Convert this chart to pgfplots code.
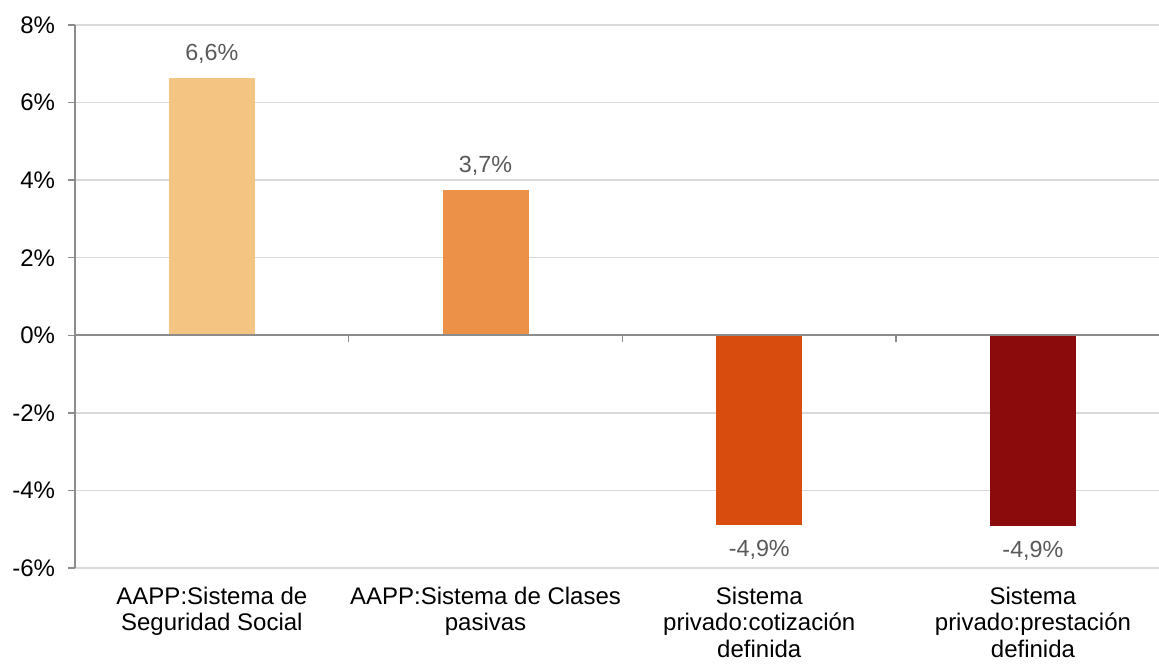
\documentclass[border=0pt]{standalone}
\usepackage{pgfplots}
\pgfplotsset{compat=1.18}
\usepackage{fontspec}
\setmainfont{Liberation Sans}
\definecolor{c1}{RGB}{244,196,130}
\definecolor{c2}{RGB}{236,146,72}
\definecolor{c3}{RGB}{216,77,14}
\definecolor{c4}{RGB}{139,10,12}
\definecolor{axisgrey}{RGB}{140,140,140}
\definecolor{gridgrey}{RGB}{217,217,217}
\definecolor{labelgrey}{RGB}{89,89,89}
\begin{document}
\begin{tikzpicture}
\begin{axis}[
  scale only axis, width=813pt, height=407.25pt,
  xmin=-0.5, xmax=3.4605, ymin=-6, ymax=8,
  ytick={-6,-4,...,8},
  yticklabel={\pgfmathprintnumber{\tick}\%},
  /pgf/number format/assume math mode=true,
  axis y line*=left, axis x line*=bottom,
  x axis line style={draw=none},
  y axis line style={draw=axisgrey, line width=1.1pt},
  ymajorgrids, grid style={draw=gridgrey, line width=1.1pt},
  tick align=outside,
  ytick style={draw=axisgrey, line width=1.1pt},
  major tick length=5.5pt,
  xtick={0,1,2,3},
  xticklabels={{AAPP:Sistema de\\Seguridad Social},{AAPP:Sistema de Clases\\pasivas},{Sistema\\privado:cotización\\definida},{Sistema\\privado:prestación\\definida}},
  xtick style={draw=none},
  xticklabel style={align=center, font=\fontsize{18}{20}\selectfont, yshift=-5pt, text=black},
  yticklabel style={font=\fontsize{18}{20}\selectfont, text=black, xshift=-6pt},
  ybar, bar width=64.5pt,
  nodes near coords, point meta=explicit symbolic,
  every node near coord/.append style={font=\fontsize{17.5}{20}\selectfont, text=labelgrey, inner ysep=11pt},
]
\addplot[fill=c1, draw=none, bar shift=0pt] coordinates {(0,6.63) [6,6\%]};
\addplot[fill=c2, draw=none, bar shift=0pt] coordinates {(1,3.74) [3,7\%]};
\addplot[fill=c3, draw=none, bar shift=0pt, every node near coord/.append style={anchor=north}] coordinates {(2,-4.90) [-4,9\%]};
\addplot[fill=c4, draw=none, bar shift=0pt, every node near coord/.append style={anchor=north}] coordinates {(3,-4.93) [-4,9\%]};
\draw[axisgrey, line width=1.5pt] (axis cs:-0.5,0) -- (axis cs:3.4605,0);
\draw[axisgrey, line width=1.1pt] (axis cs:0.5,0) -- ([yshift=-5pt]axis cs:0.5,0);
\draw[axisgrey, line width=1.1pt] (axis cs:1.5,0) -- ([yshift=-5pt]axis cs:1.5,0);
\draw[axisgrey, line width=1.1pt] (axis cs:2.5,0) -- ([yshift=-5pt]axis cs:2.5,0);
\end{axis}
\pgfresetboundingbox
\useasboundingbox ([xshift=-56.25pt,yshift=-71.5pt]current axis.south west) rectangle ([yshift=18.75pt]current axis.north east);
\end{tikzpicture}
\end{document}
